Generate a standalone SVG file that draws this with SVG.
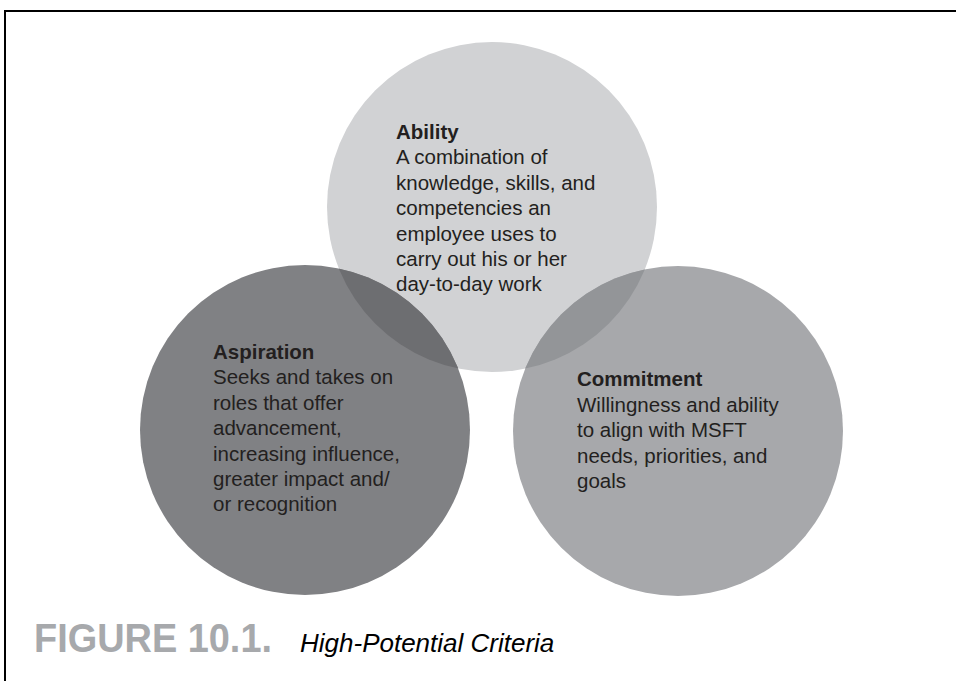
<svg xmlns="http://www.w3.org/2000/svg" width="956" height="681" viewBox="0 0 956 681">
<style>
.body{font-family:"Liberation Sans",Arial,sans-serif;font-size:20.5px;fill:#231f20}
.head{font-weight:bold}
.fig{font-family:"Liberation Sans",Arial,sans-serif;font-weight:bold;font-size:40px;fill:#a7a9ac}
.title{font-family:"Liberation Sans",Arial,sans-serif;font-style:italic;font-size:26px;fill:#000}
</style>
<defs>
<clipPath id="clipTop"><circle cx="492" cy="207" r="165"/></clipPath>
</defs>
<rect width="956" height="681" fill="#fff"/>
<rect x="5" y="11" width="1000" height="1000" fill="none" stroke="#000" stroke-width="2"/>
<g id="ability-circle">
<circle cx="492" cy="207" r="165" fill="#d1d2d4"/>
</g>
<g id="aspiration-circle">
<circle cx="305" cy="430" r="165" fill="#808184"/>
</g>
<g id="commitment-circle">
<circle cx="678" cy="431" r="165" fill="#a7a8ab"/>
</g>
<g id="overlaps">
<circle cx="305" cy="430" r="165" fill="#6d6e71" clip-path="url(#clipTop)"/>
<circle cx="678" cy="431" r="165" fill="#939598" clip-path="url(#clipTop)"/>
</g>
<g id="connectors"/>
<g id="ability">
<text class="body"><tspan class="head" x="396" y="139">Ability</tspan><tspan x="396" y="164.4">A combination of</tspan><tspan x="396" y="189.8">knowledge, skills, and</tspan><tspan x="396" y="215.2">competencies an</tspan><tspan x="396" y="240.6">employee uses to</tspan><tspan x="396" y="266">carry out his or her</tspan><tspan x="396" y="291.4">day-to-day work</tspan></text>
</g>
<g id="aspiration">
<text class="body"><tspan class="head" x="213" y="359">Aspiration</tspan><tspan x="213" y="384.4">Seeks and takes on</tspan><tspan x="213" y="409.8">roles that offer</tspan><tspan x="213" y="435.2">advancement,</tspan><tspan x="213" y="460.6">increasing influence,</tspan><tspan x="213" y="486">greater impact and/</tspan><tspan x="213" y="511.4">or recognition</tspan></text>
</g>
<g id="commitment">
<text class="body"><tspan class="head" x="577" y="386">Commitment</tspan><tspan x="577" y="411.6">Willingness and ability</tspan><tspan x="577" y="437.2">to align with MSFT</tspan><tspan x="577" y="462.8">needs, priorities, and</tspan><tspan x="577" y="488.4">goals</tspan></text>
</g>
<g id="caption">
<text class="fig" x="34" y="652" textLength="238" lengthAdjust="spacingAndGlyphs">FIGURE 10.1.</text>
<text class="title" x="300" y="652">High-Potential Criteria</text>
</g>
</svg>
